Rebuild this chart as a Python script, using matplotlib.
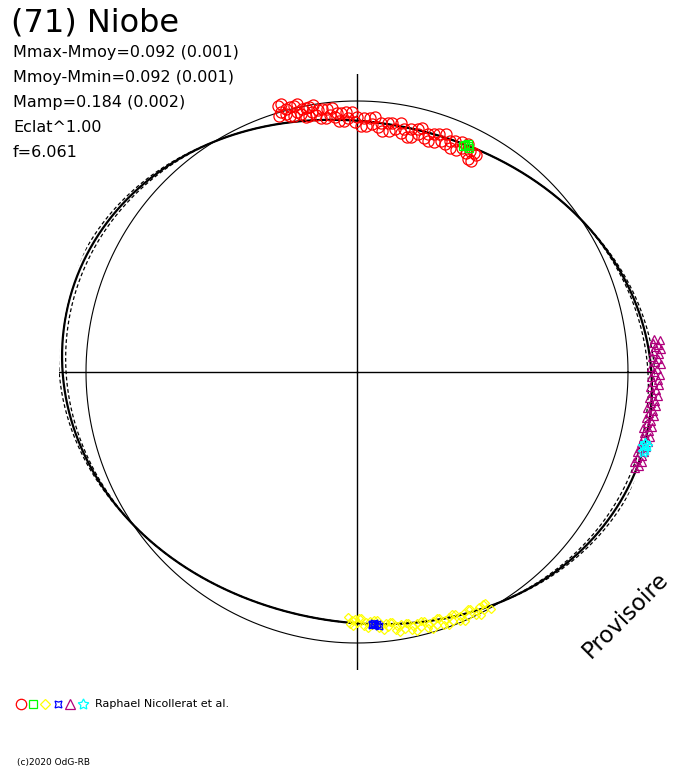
import numpy as np
import matplotlib
matplotlib.use('Agg')
import matplotlib.pyplot as plt
from matplotlib.lines import Line2D

# Polar lightcurve of (71) Niobe: angle = rotational phase, radius = brightness
# Magnitudes are relative to the reference circle (dm > 0 -> fainter -> smaller radius)

# Fourier model of the lightcurve (mag)
fit_c0 = -0.004
fit_a2 = -0.0859
fit_b2 = 0.0382
fit_env = 0.014   # half width of the uncertainty envelope near maxima

# Session 1 - red circles (phase angle in deg, dm in mag)
red_ang = [107.0, 106.6, 106.2, 105.8, 105.4, 105.0, 104.6, 104.2, 103.8, 103.4,
           103.0, 102.6, 102.2, 101.8, 101.4, 101.0, 100.6, 100.2, 99.8, 99.4,
           99.0, 98.5, 98.0, 97.5, 97.0, 96.5, 96.0, 95.5, 95.0, 94.5,
           94.0, 93.5, 93.0, 92.5, 92.0, 91.0, 90.5, 90.0, 89.0, 88.5,
           88.0, 87.0, 86.5, 86.0, 85.0, 84.5, 84.0, 83.0, 82.5, 82.0,
           81.0, 80.0, 79.5, 79.0, 78.0, 77.5, 77.0, 76.0, 75.5, 75.0,
           74.0, 73.5, 73.0, 72.0, 71.5, 71.0, 70.0, 69.5, 69.0, 68.0,
           67.5, 67.0, 66.0, 65.5, 65.0, 64.0, 63.5, 63.0, 62.5, 62.0,
           61.6, 61.3]
red_dm = [0.012, -0.026, 0.000, -0.030, 0.012, -0.006, 0.028, -0.008, 0.028, -0.010,
          0.016, -0.015, 0.027, 0.009, 0.043, 0.007, 0.043, 0.005, 0.031, 0.001,
          0.043, 0.026, 0.061, 0.025, 0.062, 0.024, 0.051, 0.022, 0.064, 0.047,
          0.082, 0.046, 0.083, 0.045, 0.071, 0.044, 0.086, 0.068, 0.104, 0.068,
          0.104, 0.068, 0.094, 0.064, 0.107, 0.088, 0.121, 0.085, 0.120, 0.081,
          0.107, 0.076, 0.117, 0.098, 0.129, 0.091, 0.125, 0.084, 0.108, 0.075,
          0.115, 0.094, 0.126, 0.087, 0.121, 0.081, 0.104, 0.071, 0.111, 0.090,
          0.122, 0.083, 0.116, 0.076, 0.099, 0.070, 0.112, 0.094, 0.129, 0.094,
          0.134, 0.100]

# Session 2 - green squares
green_ang = [64.5, 64.0, 63.5, 64.8, 63.8]
green_dm = [0.082, 0.074, 0.086, 0.090, 0.078]

# Session 3 - yellow diamonds
yellow_ang = [268.0, 268.4, 268.8, 269.2, 269.6, 270.0, 270.5, 271.0, 271.5, 272.0,
              272.5, 273.0, 273.5, 274.0, 274.5, 275.0, 275.5, 276.0, 276.5, 277.0,
              277.5, 278.0, 278.5, 279.0, 279.5, 280.0, 280.5, 281.0, 281.5, 282.0,
              282.5, 283.0, 283.5, 284.0, 284.5, 285.0, 285.5, 286.0, 286.5, 287.0,
              287.5, 288.0, 288.5, 289.0, 289.5, 290.0, 290.5, 291.0, 291.5, 292.0,
              292.5, 293.0, 293.5, 294.0, 294.5, 295.0, 295.5, 296.0, 296.5, 297.0,
              297.5, 298.0, 298.5, 299.0, 299.5]
yellow_dm = [0.111, 0.078, 0.095, 0.070, 0.101, 0.082, 0.106, 0.103, 0.069, 0.086,
             0.060, 0.091, 0.071, 0.095, 0.091, 0.057, 0.073, 0.047, 0.076, 0.056,
             0.080, 0.076, 0.042, 0.057, 0.031, 0.061, 0.041, 0.065, 0.061, 0.028,
             0.045, 0.020, 0.051, 0.032, 0.057, 0.054, 0.021, 0.038, 0.013, 0.044,
             0.025, 0.050, 0.047, 0.014, 0.031, 0.006, 0.037, 0.018, 0.043, 0.040,
             0.008, 0.025, 0.000, 0.031, 0.012, 0.037, 0.034, 0.001, 0.018, -0.007,
             0.024, 0.005, 0.030, 0.027, -0.006]

# Session 4 - blue stars
blue_ang = [273.3, 274.0, 274.6, 273.8, 274.9, 273.5]
blue_dm = [0.078, 0.070, 0.076, 0.082, 0.068, 0.072]

# Session 5 - purple triangles
purple_ang = [6.4, 6.0, 5.6, 5.2, 4.8, 4.4, 4.0, 3.5, 3.0, 2.5,
              2.0, 1.5, 1.0, 0.5, 0.0, -0.5, -1.0, -1.5, -2.0, -2.5,
              -3.0, -3.5, -4.0, -4.5, -5.0, -5.5, -6.0, -6.5, -7.0, -7.5,
              -8.0, -8.5, -9.0, -9.5, -10.0, -10.5, -11.0, -11.5, -12.0, -12.5,
              -13.0, -13.5, -14.0, -14.5, -15.0, -15.5, -16.0, -16.5, -17.0, -17.5,
              -18.0, -18.5, -19.0]
purple_dm = [-0.106, -0.126, -0.100, -0.120, -0.108, -0.128, -0.098, -0.118, -0.094, -0.116,
             -0.104, -0.124, -0.090, -0.112, -0.100, -0.120, -0.088, -0.114, -0.096, -0.118,
             -0.086, -0.110, -0.096, -0.116, -0.084, -0.108, -0.094, -0.114, -0.082, -0.106,
             -0.092, -0.112, -0.082, -0.104, -0.090, -0.110, -0.080, -0.102, -0.088, -0.110,
             -0.086, -0.106, -0.082, -0.104, -0.086, -0.104, -0.078, -0.100, -0.084, -0.106,
             -0.080, -0.100, -0.088]

# Session 6 - cyan stars
cyan_ang = [-14.0, -14.6, -15.2, -14.4, -15.6, -13.8]
cyan_dm = [-0.100, -0.094, -0.104, -0.108, -0.098, -0.096]

title = '(71) Niobe'
stats = ['Mmax-Mmoy=0.092 (0.001)', 'Mmoy-Mmin=0.092 (0.001)',
         'Mamp=0.184 (0.002)', 'Eclat^1.00', 'f=6.061']
observer = 'Raphael Nicollerat et al.'
credit = '(c)2020 OdG-RB'

W, H = 688, 768


def to_r(dm):
    return 10 ** (-0.4 * np.asarray(dm))


def fx(x):
    return x / W


def fy(y):
    return 1 - y / H


fig = plt.figure(figsize=(W / 100, H / 100), dpi=100)
fig.patch.set_facecolor('white')

# polar axes centred on pixel (357, 372), cross lines 298 px long, circle 271 px
ax = fig.add_axes([(357 - 298) / W, (H - 372 - 298) / H, 596 / W, 596 / H],
                  projection='polar')
ax.set_ylim(0, 298 / 271)
ax.set_xticks(np.radians([0, 90, 180, 270]))
ax.set_xticklabels([])
ax.set_yticks([])
ax.spines['polar'].set_visible(False)
ax.grid(True, color='black', linewidth=1.0)
ax.patch.set_alpha(0)

# reference circle
t = np.radians(np.arange(0, 360.5, 0.5))
ax.plot(t, np.ones_like(t), color='black', lw=0.8)

# model curve and envelope
harm = fit_a2 * np.cos(2 * t) + fit_b2 * np.sin(2 * t)
model = fit_c0 + harm
err = fit_env * np.clip(-harm / np.hypot(fit_a2, fit_b2), 0, None)
ax.plot(t, to_r(model + err), color='black', lw=0.9, ls=(0, (3, 2)))
ax.plot(t, to_r(model - err), color='black', lw=0.9, ls=(0, (3, 2)))
ax.plot(t, to_r(model), color='black', lw=1.6)

# observations
sessions = [
    (red_ang, red_dm, 'o', 8.0, '#FF0000'),
    (green_ang, green_dm, 's', 6.0, '#00FF00'),
    (yellow_ang, yellow_dm, 'D', 4.5, '#FFFF00'),
    (blue_ang, blue_dm, (4, 1, 45), 7.0, '#0000FF'),
    (purple_ang, purple_dm, '^', 6.0, '#B0007C'),
    (cyan_ang, cyan_dm, (5, 1, 0), 8.0, '#00FFFF'),
]
for ang, dm, mk, ms, col in sessions:
    ax.plot(np.radians(ang), to_r(dm), ls='', marker=mk, ms=ms, mfc='none',
            mec=col, mew=0.9, clip_on=False, zorder=3)

# header texts
fig.text(fx(11), fy(32), title, fontsize=23, va='baseline', ha='left')
for i, s in enumerate(stats):
    fig.text(fx(13), fy(57 + 25 * i), s, fontsize=11.5, va='baseline', ha='left')

# legend row
legend_x = [20.5, 32.5, 45, 58, 70, 82.5]
legend_ms = [7.5, 6.0, 5.5, 7.0, 7.0, 8.0]
for (ang, dm, mk, ms, col), lx, lms in zip(sessions, legend_x, legend_ms):
    fig.add_artist(Line2D([fx(lx)], [fy(704)], transform=fig.transFigure,
                          ls='', marker=mk, ms=lms, mfc='none', mec=col, mew=0.9))
fig.text(fx(95), fy(704), observer, fontsize=8, va='center', ha='left')
fig.text(fx(17), fy(762), credit, fontsize=6.5, va='center', ha='left')

fig.text(fx(626), fy(615), 'Provisoire', fontsize=16.5, rotation=45,
         ha='center', va='center')

fig.savefig('out.png', dpi=100)
